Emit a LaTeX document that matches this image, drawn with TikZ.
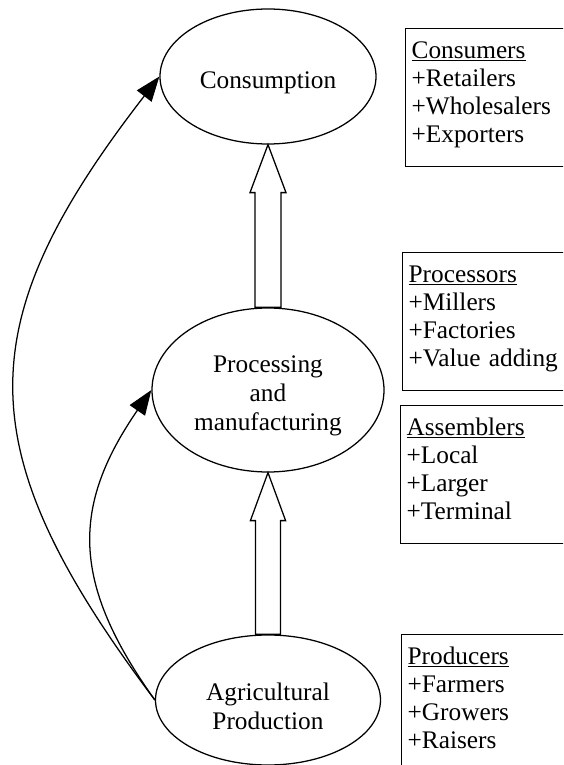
\documentclass[tikz,border=0pt]{standalone}
\usepackage{fontspec}
\setmainfont{Liberation Serif}
\usetikzlibrary{shapes.geometric,arrows.meta,calc}

\newcommand{\rolehead}[1]{\underline{\smash{#1}}}

\tikzset{
    stagenode/.style={draw,ellipse,line width=0.9pt,inner sep=0pt},
    stagetext/.style={align=center,inner sep=0pt,yshift=-0.15cm,
        font=\fontsize{18}{20.5}\selectfont},
    rolebox/.style={draw,line width=0.9pt,anchor=north west,text width=4.5cm,align=left,
        inner xsep=0.15cm,inner ysep=0pt,text height=0.75cm,text depth=2.7cm,
        font=\fontsize{18}{19.9}\selectfont},
    flowline/.style={-{Triangle[length=0.62cm,width=0.46cm]},line width=0.9pt},
    bigarrow/.style={draw,line width=0.9pt,line join=miter,fill=white}
}

\begin{document}
\begin{tikzpicture}
    \useasboundingbox (0,0) rectangle (14.075,19.125);
    \clip (0,0) rectangle (14.075,19.125);

    % stages
    \node[stagenode,minimum width=5.4cm,minimum height=3.375cm,
        label={[stagetext]center:Consumption}] (cons) at (6.7,17.2125) {};
    \node[stagenode,minimum width=5.8cm,minimum height=4.1cm,
        label={[stagetext]center:Processing\\and\\manufacturing}] (proc) at (6.7,9.375) {};
    \node[stagenode,minimum width=5.625cm,minimum height=3.25cm,
        label={[stagetext]center:Agricultural\\Production}] (agri) at (6.7,1.625) {};

    % actors
    \node[rolebox] (consumers) at (10.125,18.425) {\rolehead{Consumers}\\+Retailers\\+Wholesalers\\+Exporters};
    \node[rolebox] (processors) at (10.05,12.825) {\rolehead{Processors}\\+Millers\\+Factories\\+Value adding};
    \node[rolebox] (assemblers) at (10.0,9.0) {\rolehead{Assemblers}\\+Local\\+Larger\\+Terminal};
    \node[rolebox] (producers) at (10.025,3.275) {\rolehead{Producers}\\+Farmers\\+Growers\\+Raisers};

    % block arrows
    \draw[bigarrow] (cons.south) -- ($(cons.south)+(0.45,-1.2)$) -- ($(cons.south)+(0.325,-1.2)$)
        -- ($(proc.north)+(0.325,0)$) -- ($(proc.north)+(-0.325,0)$)
        -- ($(cons.south)+(-0.325,-1.2)$) -- ($(cons.south)+(-0.45,-1.2)$) -- cycle;
    \draw[bigarrow] (proc.south) -- ($(proc.south)+(0.44,-1.2)$) -- ($(proc.south)+(0.31,-1.2)$)
        -- ($(agri.north)+(0.31,0)$) -- ($(agri.north)+(-0.31,0)$)
        -- ($(proc.south)+(-0.31,-1.2)$) -- ($(proc.south)+(-0.44,-1.2)$) -- cycle;

    % side flows
    \draw[flowline] (agri.west) .. controls +(-4.7,6.25) and +(-4.8,-6.2) .. (cons.west);
    \draw[flowline] (agri.west) .. controls +(-2.09,2.92) and +(-2.01,-2.92) .. (proc.west);
\end{tikzpicture}
\end{document}
